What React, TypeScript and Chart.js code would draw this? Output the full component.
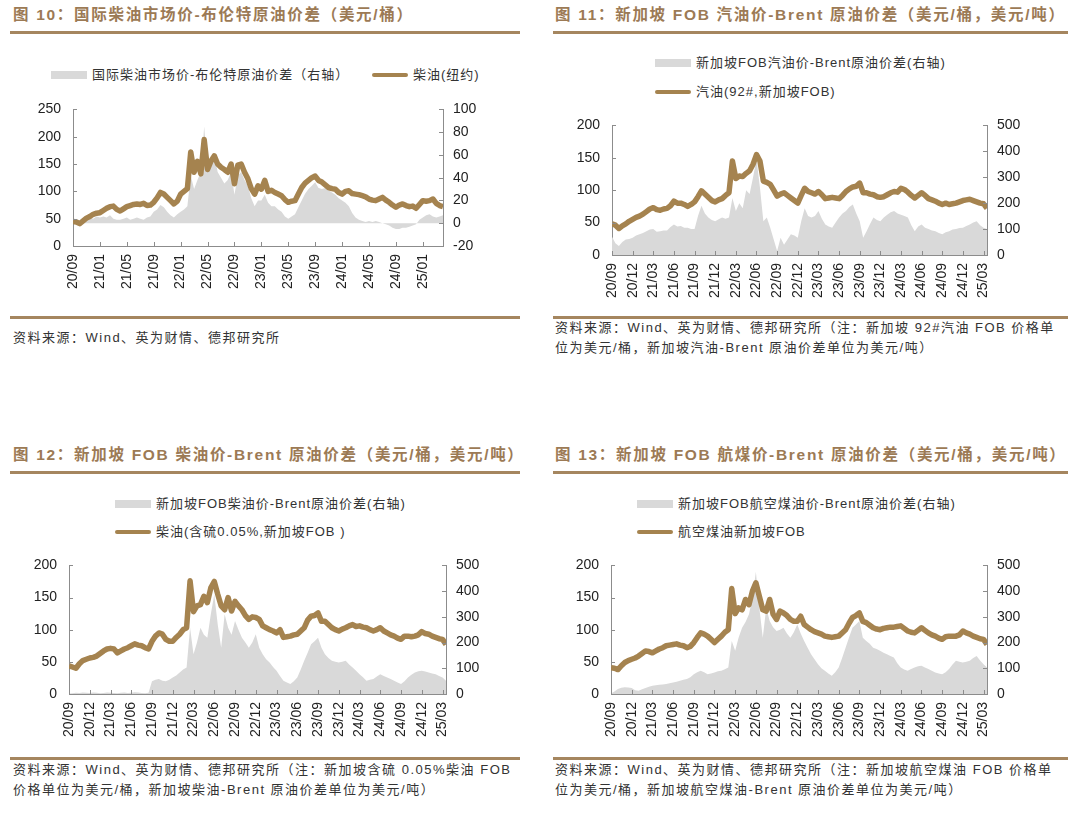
import React, { useEffect, useRef } from 'react';
import { Chart, registerables } from 'chart.js';
Chart.register(...registerables);

const LINE_COLOR = '#A5834F';
const AREA_COLOR = '#D9D9D9';
const AXIS_COLOR = '#8C8C8C';
const TITLE_COLOR = '#9C7A55';
const RULE_COLOR = '#A5865F';
const TEXT_COLOR = '#333333';
const FONT = '"Liberation Sans", "Noto Sans CJK SC", sans-serif';
const STEP = 0.5; // half-month sampling, months since 2020/09

// ---------- Figure 10 ----------
const P1_TICKS = ['20/09', '21/01', '21/05', '21/09', '22/01', '22/05', '22/09', '23/01', '23/05', '23/09', '24/01', '24/05', '24/09', '25/01'];
const P1_TICK_STEP = 4;
const P1_LINE = [
  45, 44, 41, 46, 51, 54, 58, 60, 61, 65,
  69, 72, 73, 67, 64, 68, 72, 74, 76, 77,
  76, 78, 74, 75, 80, 88, 98, 95, 89, 83,
  77, 82, 95, 100, 105, 172, 135, 155, 132, 195,
  140, 155, 165, 150, 144, 140, 135, 150, 114, 148,
  150, 135, 123, 105, 95, 110, 104, 120, 100, 102,
  98, 95, 92, 85, 80, 82, 83, 95, 107, 115,
  120, 125, 128, 120, 117, 112, 107, 105, 104, 98,
  95, 100, 101, 96, 95, 94, 92, 90, 86, 84,
  83, 86, 89, 84, 80, 75, 71, 75, 77, 74,
  72, 73, 69, 76, 83, 82, 83, 86, 78, 74,
  72,
];
const P1_AREA = [
  2, 0, 1, 3, 4, 5, 4, 6, 5, 6,
  5, 7, 4, 3, 3, 4, 5, 3, 4, 5,
  4, 3, 5, 6, 10, 12, 16, 14, 10, 7,
  5, 8, 10, 12, 15, 42, 30, 38, 45, 85,
  50, 55, 61, 45, 40, 35, 38, 45, 25, 42,
  45, 38, 33, 22, 15, 20, 20, 25, 18, 15,
  15, 12, 10, 6, 4, 6, 8, 14, 20, 26,
  30, 33, 36, 31, 30, 31, 29, 27, 25, 22,
  20, 18, 15, 9, 5, 3, 2, 1, 2, 1,
  2, 1, 0, -1, -2, -4, -5, -5, -4, -4,
  -3, -2, -1, 3, 5, 7, 8, 6, 5, 6,
  7,
];

// ---------- Figures 11-13 shared ticks ----------
const Q_TICKS = ['20/09', '20/12', '21/03', '21/06', '21/09', '21/12', '22/03', '22/06', '22/09', '22/12', '23/03', '23/06', '23/09', '23/12', '24/03', '24/06', '24/09', '24/12', '25/03'];
const Q_TICK_STEP = 3;

// ---------- Figure 11 ----------
const P2_LINE = [
  48, 46, 41, 45, 48, 52, 55, 58, 60, 63,
  67, 71, 73, 70, 69, 71, 72, 76, 83, 80,
  80, 78, 75, 78, 82, 90, 99, 94, 89, 84,
  82, 85, 87, 92, 96, 145, 118, 122, 121, 126,
  130, 140, 155, 145, 114, 112, 109, 100, 91, 94,
  96, 92, 88, 84, 80, 92, 103, 98, 96, 94,
  98, 93, 87, 88, 89, 88, 87, 92, 98, 102,
  105, 106, 111, 96, 96, 94, 93, 90, 89, 90,
  93, 96, 98, 97, 103, 101, 97, 92, 88, 92,
  96, 92, 87, 85, 83, 80, 78, 80, 78, 79,
  80, 82, 84, 85, 86, 84, 82, 80, 79, 72,
];
const P2_AREA = [
  70, 45, 35, 50, 60, 62, 67, 75, 80, 85,
  92, 98, 100, 90, 92, 95, 95, 108, 118, 110,
  112, 105, 105, 100, 100, 150, 190, 160, 145, 135,
  130, 138, 145, 140, 145, 220, 170, 200, 180, 250,
  235, 300, 370, 260, 130, 145, 105, 60, 15, 67,
  40, 60, 80, 75, 67, 130, 180, 150, 145, 150,
  170, 140, 118, 110, 105, 125, 145, 160, 170, 185,
  195, 160, 130, 67, 92, 120, 145, 135, 130, 145,
  155, 165, 170, 160, 155, 150, 145, 115, 92, 110,
  118, 105, 100, 95, 92, 85, 80, 88, 92, 98,
  100, 104, 105, 112, 118, 125, 130, 115, 105, 100,
];

// ---------- Figure 12 ----------
const P3_LINE = [
  44, 42, 40, 47, 52, 54, 56, 57, 59, 63,
  67, 70, 71, 70, 64, 67, 70, 72, 75, 78,
  76, 75, 72, 70, 82, 90, 95, 93, 85, 82,
  82, 88, 93, 100, 103, 176, 128, 137, 139, 152,
  142, 165, 175, 155, 137, 131, 150, 129, 144, 137,
  131, 122, 116, 120, 119, 116, 106, 103, 100, 98,
  95, 100, 88, 89, 90, 92, 93, 98, 103, 115,
  121, 122, 126, 113, 113, 108, 103, 100, 98, 101,
  103, 106, 108, 105, 106, 104, 103, 100, 98, 100,
  103, 98, 95, 92, 90, 87, 85, 90, 90, 89,
  90, 92, 97, 94, 93, 90, 88, 86, 85, 77,
];
const P3_AREA = [
  2, 3, 5, 4, 6, 5, 4, 6, 5, 3,
  4, 6, 5, 4, 3, 5, 6, 4, 5, 7,
  6, 4, 3, 5, 50, 55, 58, 52, 50, 55,
  64, 72, 84, 95, 103, 258, 155, 200, 258, 230,
  219, 310, 387, 270, 180, 310, 258, 230, 284, 250,
  219, 200, 180, 200, 232, 180, 155, 135, 122, 105,
  90, 70, 52, 45, 39, 50, 64, 95, 129, 160,
  193, 205, 219, 180, 155, 140, 129, 125, 122, 125,
  129, 115, 103, 90, 77, 65, 52, 55, 58, 68,
  77, 70, 64, 58, 52, 45, 39, 50, 64, 75,
  84, 88, 90, 87, 84, 80, 77, 70, 64, 52,
];

// ---------- Figure 13 ----------
const P4_LINE = [
  41, 40, 38, 44, 49, 52, 54, 56, 59, 63,
  67, 66, 64, 67, 70, 72, 75, 76, 77, 78,
  76, 75, 72, 74, 80, 88, 95, 93, 90, 85,
  80, 85, 90, 96, 100, 164, 125, 134, 131, 147,
  139, 160, 173, 152, 131, 129, 147, 124, 116, 129,
  126, 122, 116, 113, 113, 121, 108, 104, 100, 97,
  95, 93, 90, 89, 88, 89, 90, 95, 100, 110,
  119, 122, 126, 113, 111, 107, 103, 101, 100, 102,
  103, 104, 104, 105, 106, 102, 98, 96, 95, 99,
  103, 99, 95, 92, 90, 87, 85, 89, 90, 90,
  90, 92, 98, 95, 93, 90, 88, 86, 85, 77,
];
const P4_AREA = [
  2, 10, 19, 24, 26, 25, 23, 15, 13, 18,
  23, 28, 32, 34, 36, 37, 39, 42, 45, 48,
  52, 55, 58, 65, 77, 85, 90, 85, 77, 80,
  84, 88, 90, 96, 103, 206, 168, 220, 258, 280,
  310, 374, 475, 335, 219, 335, 284, 260, 245, 250,
  258, 235, 219, 240, 270, 235, 206, 180, 155, 135,
  116, 100, 90, 80, 71, 85, 103, 140, 180, 220,
  258, 270, 284, 219, 206, 195, 180, 175, 168, 160,
  155, 148, 142, 120, 103, 95, 90, 97, 103, 108,
  110, 103, 97, 90, 84, 80, 77, 85, 97, 115,
  129, 125, 122, 125, 129, 140, 148, 130, 116, 103,
];

const innerTicks = {
  id: 'innerTicks',
  afterDatasetsDraw(chart: any) {
    const { ctx, chartArea: a, scales } = chart;
    const L = 4;
    ctx.save();
    ctx.strokeStyle = AXIS_COLOR;
    ctx.lineWidth = 1;
    ctx.beginPath();
    scales.x.ticks.forEach((t: any) => {
      const p = Math.round(scales.x.getPixelForValue(t.value)) + 0.5;
      ctx.moveTo(p, a.bottom);
      ctx.lineTo(p, a.bottom - L);
    });
    scales.y.ticks.forEach((t: any) => {
      const p = Math.round(scales.y.getPixelForValue(t.value)) + 0.5;
      ctx.moveTo(a.left, p);
      ctx.lineTo(a.left + L, p);
    });
    scales.y1.ticks.forEach((t: any) => {
      const p = Math.round(scales.y1.getPixelForValue(t.value)) + 0.5;
      ctx.moveTo(a.right, p);
      ctx.lineTo(a.right - L, p);
    });
    ctx.stroke();
    ctx.restore();
  },
};

type PanelProps = {
  left: number; top: number; width: number; height: number;
  line: number[]; area: number[];
  yMin: number; yMax: number; yStep: number;
  y1Min: number; y1Max: number; y1Step: number;
  ticks: string[]; tickStep: number;
};

function ChartPanel(p: PanelProps) {
  const ref = useRef<HTMLCanvasElement | null>(null);
  useEffect(() => {
    if (!ref.current) return;
    const tickPos = p.ticks.map((_, i) => i * p.tickStep);
    const xMax = (Math.max(p.line.length, p.area.length) - 1) * STEP;
    const tickFont = { family: '"Liberation Sans", Arial, sans-serif', size: 14 };
    const chart = new Chart(ref.current, {
      type: 'line',
      data: {
        datasets: [
          {
            data: p.line.map((v, i) => ({ x: i * STEP, y: v })),
            yAxisID: 'y',
            borderColor: LINE_COLOR,
            borderWidth: 5.5,
            pointRadius: 0,
            fill: false,
            tension: 0,
            borderJoinStyle: 'round',
            order: 0,
          },
          {
            data: p.area.map((v, i) => ({ x: i * STEP, y: v })),
            yAxisID: 'y1',
            borderColor: AREA_COLOR,
            borderWidth: 0,
            backgroundColor: AREA_COLOR,
            pointRadius: 0,
            fill: 'origin',
            tension: 0,
            order: 1,
          },
        ],
      },
      options: {
        animation: false,
        responsive: true,
        maintainAspectRatio: false,
        layout: { padding: { top: 12, left: 0, right: 0, bottom: 0 } },
        plugins: { legend: { display: false }, tooltip: { enabled: false } },
        scales: {
          x: {
            type: 'linear',
            min: 0,
            max: xMax,
            afterBuildTicks: (s: any) => { s.ticks = tickPos.map((v) => ({ value: v })); },
            afterFit: (s: any) => { s.height = 52; },
            grid: { display: false, drawTicks: false },
            border: { display: true, color: AXIS_COLOR },
            ticks: {
              autoSkip: false, maxRotation: 90, minRotation: 90, padding: 8,
              font: tickFont, color: '#222',
              callback: (v: any) => { const i = tickPos.indexOf(Number(v)); return i >= 0 ? p.ticks[i] : ''; },
            },
          },
          y: {
            position: 'left',
            min: p.yMin, max: p.yMax,
            afterFit: (s: any) => { s.width = 50; },
            grid: { display: false, drawTicks: false },
            border: { display: true, color: AXIS_COLOR },
            ticks: { stepSize: p.yStep, padding: 12, font: tickFont, color: '#222' },
          },
          y1: {
            position: 'right',
            min: p.y1Min, max: p.y1Max,
            afterFit: (s: any) => { s.width = 45; },
            grid: { display: false, drawTicks: false },
            border: { display: true, color: AXIS_COLOR },
            ticks: { stepSize: p.y1Step, padding: 10, font: tickFont, color: '#222' },
          },
        },
      } as any,
      plugins: [innerTicks as any],
    });
    return () => chart.destroy();
  }, []);
  return (
    <div style={{ position: 'absolute', left: p.left, top: p.top, width: p.width, height: p.height }}>
      <canvas ref={ref} />
    </div>
  );
}

function Title({ x, y, text }: { x: number; y: number; text: string }) {
  return (
    <div style={{ position: 'absolute', left: x, top: y, font: `bold 15.5px ${FONT}`, letterSpacing: '1.7px', color: TITLE_COLOR, whiteSpace: 'nowrap', lineHeight: '20px' }}>{text}</div>
  );
}

function Rule({ x, y, w }: { x: number; y: number; w: number }) {
  return <div style={{ position: 'absolute', left: x, top: y, width: w, height: 3, background: RULE_COLOR }} />;
}

function Note({ x, y, lines }: { x: number; y: number; lines: string[] }) {
  return (
    <div style={{ position: 'absolute', left: x, top: y, font: `13px ${FONT}`, letterSpacing: '1.5px', color: TEXT_COLOR, whiteSpace: 'nowrap', lineHeight: '20px' }}>
      {lines.map((l, i) => <div key={i}>{l}</div>)}
    </div>
  );
}

function LegendItem({ x, y, kind, text }: { x: number; y: number; kind: 'area' | 'line'; text: string }) {
  const h = kind === 'area' ? 8 : 4;
  return (
    <>
      <div style={{ position: 'absolute', left: x, top: y - h / 2, width: 36, height: h, background: kind === 'area' ? AREA_COLOR : LINE_COLOR, borderRadius: kind === 'line' ? 2 : 0 }} />
      <div style={{ position: 'absolute', left: x + 41, top: y - 10, font: `13px ${FONT}`, letterSpacing: '1px', color: TEXT_COLOR, whiteSpace: 'nowrap', lineHeight: '20px' }}>{text}</div>
    </>
  );
}

export default function App() {
  return (
    <div style={{ position: 'absolute', left: 0, top: 0, width: 1080, height: 823, background: '#fff', overflow: 'hidden' }}>
      {/* Figure 10 */}
      <Title x={13} y={5} text="图 10：国际柴油市场价-布伦特原油价差（美元/桶）" />
      <Rule x={10} y={31} w={510} />
      <LegendItem x={51} y={75} kind="area" text="国际柴油市场价-布伦特原油价差（右轴）" />
      <LegendItem x={372} y={75} kind="line" text="柴油(纽约)" />
      <ChartPanel left={23} top={89} width={465} height={209} line={P1_LINE} area={P1_AREA}
        yMin={0} yMax={250} yStep={50} y1Min={-20} y1Max={100} y1Step={20} ticks={P1_TICKS} tickStep={P1_TICK_STEP} />
      <Rule x={10} y={316} w={510} />
      <Note x={13} y={328} lines={['资料来源：Wind、英为财情、德邦研究所']} />

      {/* Figure 11 */}
      <Title x={555} y={5} text="图 11：新加坡 FOB 汽油价-Brent 原油价差（美元/桶，美元/吨）" />
      <Rule x={553} y={31} w={515} />
      <LegendItem x={655} y={63} kind="area" text="新加坡FOB汽油价-Brent原油价差(右轴)" />
      <LegendItem x={655} y={92} kind="line" text="汽油(92#,新加坡FOB)" />
      <ChartPanel left={562} top={105} width={470} height={202} line={P2_LINE} area={P2_AREA}
        yMin={0} yMax={200} yStep={50} y1Min={0} y1Max={500} y1Step={100} ticks={Q_TICKS} tickStep={Q_TICK_STEP} />
      <Rule x={553} y={316} w={515} />
      <Note x={555} y={318} lines={['资料来源：Wind、英为财情、德邦研究所（注：新加坡 92#汽油 FOB 价格单', '位为美元/桶，新加坡汽油-Brent 原油价差单位为美元/吨）']} />

      {/* Figure 12 */}
      <Title x={13} y={445} text="图 12：新加坡 FOB 柴油价-Brent 原油价差（美元/桶，美元/吨）" />
      <Rule x={10} y={471} w={510} />
      <LegendItem x={115} y={504} kind="area" text="新加坡FOB柴油价-Brent原油价差(右轴)" />
      <LegendItem x={115} y={532} kind="line" text="柴油(含硫0.05%,新加坡FOB )" />
      <ChartPanel left={19} top={545} width={472} height={201} line={P3_LINE} area={P3_AREA}
        yMin={0} yMax={200} yStep={50} y1Min={0} y1Max={500} y1Step={100} ticks={Q_TICKS} tickStep={Q_TICK_STEP} />
      <Rule x={10} y={757} w={510} />
      <Note x={13} y={760} lines={['资料来源：Wind、英为财情、德邦研究所（注：新加坡含硫 0.05%柴油 FOB', '价格单位为美元/桶，新加坡柴油-Brent 原油价差单位为美元/吨）']} />

      {/* Figure 13 */}
      <Title x={555} y={445} text="图 13：新加坡 FOB 航煤价-Brent 原油价差（美元/桶，美元/吨）" />
      <Rule x={553} y={471} w={515} />
      <LegendItem x={637} y={504} kind="area" text="新加坡FOB航空煤油价-Brent原油价差(右轴)" />
      <LegendItem x={637} y={532} kind="line" text="航空煤油新加坡FOB" />
      <ChartPanel left={561} top={545} width={471} height={201} line={P4_LINE} area={P4_AREA}
        yMin={0} yMax={200} yStep={50} y1Min={0} y1Max={500} y1Step={100} ticks={Q_TICKS} tickStep={Q_TICK_STEP} />
      <Rule x={553} y={757} w={515} />
      <Note x={555} y={760} lines={['资料来源：Wind、英为财情、德邦研究所（注：新加坡航空煤油 FOB 价格单', '位为美元/桶，新加坡航空煤油-Brent 原油价差单位为美元/吨）']} />
    </div>
  );
}
